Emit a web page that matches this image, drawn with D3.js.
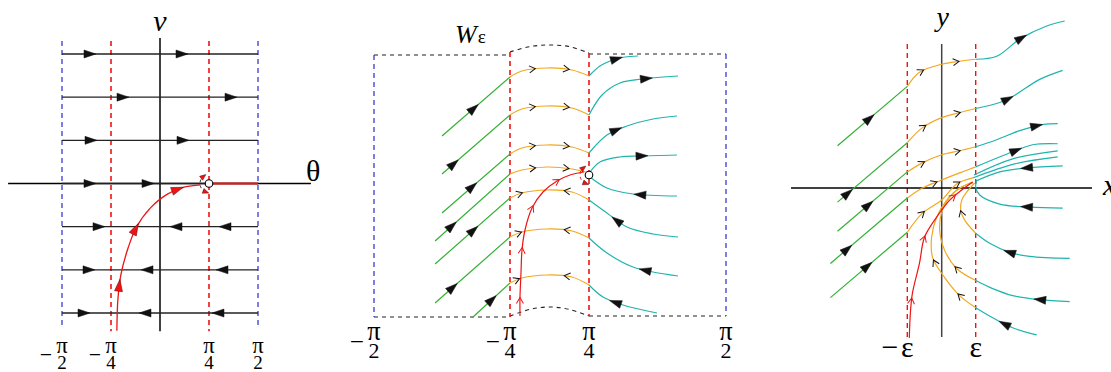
<!DOCTYPE html>
<html>
<head>
<meta charset="utf-8">
<script src="https://cdn.jsdelivr.net/npm/d3@7"></script>
<style>
  body { margin: 0; background: #fff; }
  svg { display: block; }
</style>
</head>
<body>
<svg id="chart" width="1111" height="372"></svg>
<script>
// ---------------- data ----------------
// panel 1: theta in units of pi/4, v in row units
const p1Rows = [3, 2, 1, 0, -1, -2, -3];
const p1RowArrows = [
  [[-1.43, 1], [0.45, 1]],
  [[-0.76, 1], [1.45, 1]],
  [[-1.41, 1], [0.47, 1]],
  [[-1.43, 1], [-0.24, 1]],
  [[-1.24, 1], [0.33, -1], [1.33, -1]],
  [[-1.45, 1], [-0.27, -1], [1.27, -1]],
  [[-1.55, 1], [-0.31, -1], [1.18, -1]]
];
const p1Sep = [[-0.88, -3.41], [-0.86, -2.70], [-0.80, -2.12], [-0.65, -1.49], [-0.49, -1.03],
  [-0.20, -0.57], [0.16, -0.24], [0.51, -0.08], [0.82, -0.03]];
const p1SepArrows = [[-0.86, -2.35, 1], [-0.49, -1.05, 1], [0.37, -0.15, 1]];
const thetaTicks = [-2, -1, 1, 2];
const thetaSign = ['−', '−', '', ''];
const thetaDen = ['2', '4', '4', '2'];

// panel 2: W_eps strip (x piecewise in units of pi/4)
const p2Green = [
  [[-1.5, 0.975], [-1, 2.45]],
  [[-1.5, 0.025], [-1, 1.5]],
  [[-1.5, -0.95], [-1, 0.525]],
  [[-1.551, -1.65], [-1, 0.025]],
  [[-1.551, -2.225], [-1, -0.575]],
  [[-1.551, -3.2], [-1, -1.55]],
  [[-1.272, -3.55], [-1, -2.7]]
];
const p2GreenArrows = [[-1.272, 1.675, 1], [-1.419, 0.3, 1], [-1.272, -0.325, 1], [-1.419, -1.3, 1],
  [-1.272, -1.375, 1], [-1.419, -2.825, 1], [-1.132, -3.125, 1]];
const p2Yellow = [
  [[-1, 2.45], [-0.70, 2.60], [-0.06, 2.675], [0.57, 2.625], [1, 2.475]],
  [[-1, 1.5], [-0.70, 1.65], [-0.06, 1.725], [0.57, 1.675], [1, 1.5]],
  [[-1, 0.525], [-0.70, 0.675], [-0.06, 0.75], [0.57, 0.70], [1, 0.55]],
  [[-1, 0.025], [-0.70, 0.125], [-0.06, 0.2], [0.57, 0.15], [0.92, 0.075]],
  [[-1, -0.575], [-0.70, -0.45], [-0.06, -0.375], [0.57, -0.425], [1, -0.625]],
  [[-1, -1.55], [-0.70, -1.425], [-0.06, -1.35], [0.57, -1.4], [1, -1.575]],
  [[-1, -2.7], [-0.70, -2.575], [-0.06, -2.5], [0.57, -2.55], [1, -2.75]]
];
const p2YellowArrows = [
  [[-0.42, 2.66, 1], [0.44, 2.66, 1]],
  [[-0.42, 1.72, 1], [0.44, 1.72, 1]],
  [[-0.42, 0.74, 1], [0.44, 0.74, 1]],
  [[-0.42, 0.19, 1], [0.44, 0.19, 1]],
  [[-0.747, -0.45, 1], [0.44, -0.39, -1]],
  [[-0.772, -1.45, 1], [0.44, -1.36, -1]],
  [[-0.823, -2.6, 1], [0.44, -2.52, -1]]
];
const p2Cyan = [
  [[1, 2.475], [1.08, 2.725], [1.175, 2.875], [1.263, 2.95], [1.358, 2.975]],
  [[1, 1.5], [1.095, 2.0], [1.226, 2.3], [1.394, 2.4], [1.65, 2.475]],
  [[1, 0.55], [1.131, 1.0], [1.277, 1.225], [1.467, 1.4], [1.642, 1.475]],
  [[1.007, 0.075], [1.08, 0.325], [1.226, 0.45], [1.372, 0.475], [1.642, 0.5]],
  [[1.007, -0.05], [1.131, -0.325], [1.321, -0.475], [1.642, -0.525]],
  [[1, -0.625], [1.131, -0.95], [1.277, -1.3], [1.467, -1.475], [1.65, -1.55]],
  [[1, -1.575], [1.131, -1.95], [1.321, -2.3], [1.65, -2.525]],
  [[1, -2.75], [1.102, -3.05], [1.248, -3.25], [1.496, -3.45]]
];
const p2CyanArrows = [[1.204, 2.85, 1], [1.423, 2.325, 1], [1.204, 1.075, 1], [1.387, 0.45, 1],
  [1.372, -0.5, -1], [1.204, -1.125, -1], [1.409, -2.375, -1], [1.19, -3.2, -1]];
const p2Sep = [[-0.747, -3.525], [-0.747, -3.05], [-0.722, -2.45], [-0.696, -1.875], [-0.62, -1.375],
  [-0.443, -0.825], [-0.165, -0.425], [0.19, -0.15], [0.519, 0], [0.873, 0.075]];
const p2SepArrows = [[-0.747, -3.125, 1], [-0.696, -1.875, 1], [-0.443, -0.825, 1], [0.19, -0.15, 1]];
const p2Frame = [
  [[-2, 3], [-1, 3]],
  [[-1, 3.075], [-0.5, 3.21], [0, 3.25], [0.5, 3.21], [1, 3.05]],
  [[1, 3.025], [2, 3.025]],
  [[-2, -3.55], [-1, -3.55]],
  [[-1, -3.525], [-0.5, -3.36], [0, -3.3], [0.5, -3.36], [1, -3.525]],
  [[1, -3.525], [2, -3.525]]
];

// panel 3: blow-up near the saddle, x in units of eps
const p3Green = [
  [[-3.029, 1.235], [-1, 2.971]],
  [[-3.029, -0.412], [-1, 1.324]],
  [[-3.029, -1.265], [-1, 0.471]],
  [[-3.235, -2.206], [-1, -0.294]],
  [[-3.235, -3.206], [-1, -1.294]]
];
const p3GreenArrows = [[-2.118, 2.059, 1], [-2.735, -0.147, 1], [-2.147, -0.471, 1],
  [-2.765, -1.765, 1], [-2.176, -2.265, 1]];
const p3Yellow = [
  [[-1, 2.971], [-0.647, 3.382], [0, 3.618], [0.529, 3.706], [1, 3.765]],
  [[-1, 1.324], [-0.559, 1.765], [0, 2.059], [0.529, 2.206], [1, 2.324]],
  [[-1, 0.471], [-0.559, 0.735], [0, 0.971], [0.529, 1.088], [1, 1.206]],
  [[-1, -0.294], [-0.559, 0], [0, 0.235], [0.529, 0.441], [1, 0.618]],
  [[-1, -1.294], [-0.559, -0.735], [0, -0.353], [0.441, 0.118], [0.912, 0.294]],
  [[1, -1.324], [0.676, -0.941], [0.559, -0.647], [0.588, -0.353], [0.735, -0.118], [0.971, 0.147]],
  [[1, -2.706], [0.441, -2.353], [0.088, -1.824], [-0.059, -1.235], [0, -0.706], [0.235, -0.265],
    [0.588, 0.029], [0.912, 0.176]],
  [[1, -3.5], [0.529, -3.147], [0.088, -2.618], [-0.265, -2.029], [-0.294, -1.441], [-0.147, -0.853],
    [0.147, -0.353], [0.529, 0], [0.912, 0.147]]
];
const p3YellowArrows = [
  [[-0.559, 3.353, 1], [0.441, 3.706, 1]],
  [[-0.5, 1.765, 1], [0.471, 2.206, 1]],
  [[-0.559, 0.735, 1], [0.471, 1.088, 1]],
  [[-0.206, 0.147, 1]],
  [[-0.559, -0.735, 1], [0.471, 0.147, 1]],
  [[0.588, -0.735, 1]],
  [[0.441, -2.353, 1]],
  [[0.529, -3.147, 1], [-0.206, -2.176, 1]]
];
const p3Cyan = [
  [[1, 3.765], [1.618, 3.853], [2.294, 4.353], [3.088, 4.735], [3.618, 4.882]],
  [[1, 2.324], [1.706, 2.5], [2.088, 2.676], [2.882, 3.176], [3.559, 3.441]],
  [[1, 1.206], [1.618, 1.412], [2.294, 1.676], [2.971, 1.853], [3.412, 1.882]],
  [[1, 0.618], [2.088, 1.059], [2.676, 1.265], [3.412, 1.294]],
  [[0.95, 0.38], [2.088, 0.853], [3.412, 1.088]],
  [[0.912, 0.294], [2.147, 0.706], [3.412, 0.912]],
  [[1.0, 0.2], [1.706, 0.471], [2.5, 0.588], [3.559, 0.647]],
  [[1.029, 0.235], [1.0, 0.029], [1.118, -0.206], [1.706, -0.471], [2.588, -0.559], [3.559, -0.588]],
  [[1, -1.324], [1.412, -1.618], [2, -1.882], [2.588, -2.0], [3.765, -2.059]],
  [[1, -2.706], [1.5, -2.941], [2.088, -3.147], [2.882, -3.265], [3.765, -3.324]],
  [[1, -3.5], [1.5, -3.794], [2.088, -4.088], [2.794, -4.294]]
];
const p3CyanArrows = [[2.382, 4.324, 1], [1.912, 2.647, 1], [2.794, 1.824, 1], [2.206, 1.059, 1],
  null, null, [2.5, 0.588, -1], [2.5, -0.559, -1], [2.0, -1.882, -1], [2.882, -3.265, -1], [1.853, -3.97, -1]];
const p3Sep = [[-0.941, -4.382], [-0.912, -3.676], [-0.853, -3.088], [-0.647, -2.206], [-0.5, -1.441],
  [-0.147, -0.853], [0.235, -0.353], [0.588, -0.059], [0.912, 0.176]];
const p3SepArrows = [[-0.882, -3.294, 1], [-0.529, -1.471, 1], [0.324, -0.206, 1]];
const epsTicks = [-1, 1];
const epsSign = ['−', ''];

// ---------------- styles ----------------
const SERIF = '"Liberation Serif", "DejaVu Serif", serif';
const GREEN = '#33b033', YELLOW = '#f3a81e', CYAN = '#1fb4ae', RED = '#ee1414', BLUE = '#3a3ad2';

const svg = d3.select('#chart');

// scales
const x1 = d3.scaleLinear().domain([-2, 2]).range([62, 258]);
const y1 = d3.scaleLinear().domain([-3, 3]).range([313, 54]);
const x2 = d3.scaleLinear().domain([-2, -1, 1, 2]).range([374, 510, 589, 726]);
const y2 = d3.scaleLinear().domain([-1, 1]).range([215, 135]);
const x3 = d3.scaleLinear().domain([-1, 0, 1]).range([907.3, 941.7, 975.7]);
const y3 = d3.scaleLinear().domain([-1, 1]).range([222.2, 153.8]);

// ---------------- helpers ----------------
function curve(g, pts, sx, sy, color, width, dash) {
  const line = d3.line()
    .x(d => sx(d[0])).y(d => sy(d[1]))
    .curve(pts.length > 2 ? d3.curveCatmullRom.alpha(0.5) : d3.curveLinear);
  return g.append('path')
    .attr('d', line(pts))
    .attr('fill', 'none')
    .attr('stroke', color)
    .attr('stroke-width', width || 1.2)
    .attr('stroke-dasharray', dash || null)
    .node();
}

function arrowOn(g, node, px, py, dir, kind, color) {
  const L = node.getTotalLength();
  let best = 0, bd = Infinity;
  for (let l = 0; l <= L; l += 0.5) {
    const p = node.getPointAtLength(l);
    const d = (p.x - px) ** 2 + (p.y - py) ** 2;
    if (d < bd) { bd = d; best = l; }
  }
  const p = node.getPointAtLength(best);
  const a = node.getPointAtLength(Math.max(0, best - 2));
  const b = node.getPointAtLength(Math.min(L, best + 2));
  let ang = Math.atan2(b.y - a.y, b.x - a.x) * 180 / Math.PI;
  if (dir < 0) ang += 180;
  const t = g.append('g').attr('transform', `translate(${p.x},${p.y}) rotate(${ang})`);
  if (kind === 'fill') {
    t.append('path').attr('d', 'M6,0L-6,-4L-6,4Z').attr('fill', color || '#111')
      .attr('stroke', color === RED ? '#600' : '#111').attr('stroke-width', 0.5);
  } else {
    t.append('path').attr('d', 'M-3.5,-3.5L2.5,0L-3.5,3.5').attr('fill', 'none')
      .attr('stroke', color || '#111').attr('stroke-width', 1);
  }
}

function traj(g, list, arrows, sx, sy, color, kind, arrowColor) {
  list.forEach((pts, i) => {
    const node = curve(g, pts, sx, sy, color, 1.2);
    let a = arrows[i];
    if (!a) return;
    if (!Array.isArray(a[0])) a = [a];
    a.forEach(s => arrowOn(g, node, sx(s[0]), sy(s[1]), s[2], kind, arrowColor));
  });
}

function vdash(g, x, yTop, yBot, color, width) {
  g.append('line').attr('x1', x).attr('x2', x).attr('y1', yTop).attr('y2', yBot)
    .attr('stroke', color).attr('stroke-width', width).attr('stroke-dasharray', '5,4');
}

function saddleHook(g, cx, cy, color, arrowColor) {
  const r = 9, a0 = 110 * Math.PI / 180, a1 = 232 * Math.PI / 180;
  const p = d3.path();
  p.arc(cx, cy, r, a0, a1, false);
  g.append('path').attr('d', p.toString()).attr('fill', 'none')
    .attr('stroke', color).attr('stroke-width', 1).attr('stroke-dasharray', '3,3');
  [[a1, 1], [a0, -1]].forEach(([a, s]) => {
    const x = cx + r * Math.cos(a), y = cy + r * Math.sin(a);
    const ang = Math.atan2(s * Math.cos(a), -s * Math.sin(a)) * 180 / Math.PI;
    g.append('path').attr('d', 'M3,0L-3,-2.5L-3,2.5Z')
      .attr('transform', `translate(${x},${y}) rotate(${ang})`)
      .attr('fill', arrowColor).attr('stroke', '#300').attr('stroke-width', 0.4);
  });
}

// stacked pi over a digit, with an optional minus sign in front
function fraction(g, cx, yPi, fs, sign, den) {
  const t = g.append('g').style('font-family', SERIF);
  t.append('text').attr('x', cx).attr('y', yPi).attr('text-anchor', 'middle')
    .style('font-size', (fs * 1.2) + 'px').text('π');
  t.append('text').attr('x', cx).attr('y', yPi + fs * 0.82).attr('text-anchor', 'middle')
    .style('font-size', fs + 'px').text(den);
  if (sign) {
    t.append('text').attr('x', cx - 10).attr('y', yPi + 3 + fs * 0.3)
      .attr('text-anchor', 'end').style('font-size', (fs * 1.15) + 'px').text(sign);
  }
}

// ---------------- panel 1 ----------------
const g1 = svg.append('g');
vdash(g1, x1(-2), y1(3.3), y1(-3.37), BLUE, 1.3);
vdash(g1, x1(2), y1(3.3), y1(-3.37), BLUE, 1.3);
vdash(g1, x1(-1), y1(3.3), y1(-3.42), RED, 1.6);
vdash(g1, x1(1), y1(3.3), y1(-3.42), RED, 1.6);

g1.append('line').attr('x1', x1(0)).attr('x2', x1(0)).attr('y1', y1(3.37)).attr('y2', y1(-3.42))
  .attr('stroke', '#000').attr('stroke-width', 1.5);
g1.append('line').attr('x1', x1(-3.1)).attr('x2', x1(3.08)).attr('y1', y1(0)).attr('y2', y1(0))
  .attr('stroke', '#000').attr('stroke-width', 1.5);

p1Rows.forEach((v, i) => {
  const node = curve(g1, [[-2, v], [2, v]], x1, y1, '#222', 1.3);
  p1RowArrows[i].forEach(a => arrowOn(g1, node, x1(a[0]), y1(v), a[1], 'fill', '#111'));
});
g1.append('line').attr('x1', x1(1)).attr('x2', x1(2)).attr('y1', y1(0)).attr('y2', y1(0))
  .attr('stroke', RED).attr('stroke-width', 2);

const sep1 = curve(g1, p1Sep, x1, y1, RED, 1.3);
p1SepArrows.forEach(a => arrowOn(g1, sep1, x1(a[0]), y1(a[1]), a[2], 'fill', RED));
saddleHook(g1, x1(1), y1(0), '#333', RED);
g1.append('circle').attr('cx', x1(1)).attr('cy', y1(0)).attr('r', 3.8)
  .attr('fill', '#fff').attr('stroke', '#000').attr('stroke-width', 1.1);

g1.append('text').attr('x', x1(0)).attr('y', 31).attr('text-anchor', 'middle')
  .style('font-family', SERIF).style('font-style', 'italic').style('font-size', '30px').text('v');
g1.append('text').attr('x', 306).attr('y', 181)
  .style('font-family', SERIF).style('font-size', '30px').text('θ');
thetaTicks.forEach((t, i) => fraction(g1, x1(t), 353, 19, thetaSign[i], thetaDen[i]));

// ---------------- panel 2 ----------------
const g2 = svg.append('g');
p2Frame.forEach(seg => curve(g2, seg, x2, y2, '#222', 1.1, '4,4'));
vdash(g2, x2(-2), y2(3), y2(-3.55), BLUE, 1.3);
vdash(g2, x2(2), y2(3.025), y2(-3.525), BLUE, 1.3);
vdash(g2, x2(-1), y2(3.075), y2(-3.55), RED, 1.6);
vdash(g2, x2(1), y2(3.05), y2(-3.525), RED, 1.6);

traj(g2, p2Green, p2GreenArrows, x2, y2, GREEN, 'fill', '#111');
traj(g2, p2Yellow, p2YellowArrows, x2, y2, YELLOW, 'open', '#111');
traj(g2, p2Cyan, p2CyanArrows, x2, y2, CYAN, 'fill', '#111');
const sep2 = curve(g2, p2Sep, x2, y2, RED, 1.2);
p2SepArrows.forEach(a => arrowOn(g2, sep2, x2(a[0]), y2(a[1]), a[2], 'open', RED));
saddleHook(g2, x2(1), y2(0), RED, RED);
g2.append('circle').attr('cx', x2(1)).attr('cy', y2(0)).attr('r', 3.8)
  .attr('fill', '#fff').attr('stroke', '#000').attr('stroke-width', 1.1);

const wl = g2.append('text').attr('x', 455).attr('y', 43)
  .style('font-family', SERIF).style('font-size', '26px');
wl.append('tspan').style('font-style', 'italic').text('W');
wl.append('tspan').attr('dx', 1).style('font-size', '19px').text('ε');
thetaTicks.forEach((t, i) => fraction(g2, x2(t), 340, 22, thetaSign[i], thetaDen[i]));

// ---------------- panel 3 ----------------
const g3 = svg.append('g');
vdash(g3, x3(-1), y3(4.21), y3(-4.36), RED, 1.4);
vdash(g3, x3(1), y3(4.21), y3(-4.36), RED, 1.4);
g3.append('line').attr('x1', x3(0)).attr('x2', x3(0)).attr('y1', y3(4.21)).attr('y2', y3(-4.36))
  .attr('stroke', '#444').attr('stroke-width', 1.5);
g3.append('line').attr('x1', x3(-4.38)).attr('x2', x3(4.42)).attr('y1', y3(0)).attr('y2', y3(0))
  .attr('stroke', '#000').attr('stroke-width', 1.5);

traj(g3, p3Green, p3GreenArrows, x3, y3, GREEN, 'fill', '#111');
traj(g3, p3Cyan, p3CyanArrows, x3, y3, CYAN, 'fill', '#111');
traj(g3, p3Yellow, p3YellowArrows, x3, y3, YELLOW, 'open', '#111');
const sep3 = curve(g3, p3Sep, x3, y3, RED, 1.2);
p3SepArrows.forEach(a => arrowOn(g3, sep3, x3(a[0]), y3(a[1]), a[2], 'open', RED));

g3.append('text').attr('x', x3(0) + 1).attr('y', 26).attr('text-anchor', 'middle')
  .style('font-family', SERIF).style('font-style', 'italic').style('font-size', '28px').text('y');
g3.append('text').attr('x', 1103).attr('y', 195)
  .style('font-family', SERIF).style('font-style', 'italic').style('font-size', '30px').text('x');
epsTicks.forEach((t, i) => {
  g3.append('text').attr('x', x3(t)).attr('y', 357).attr('text-anchor', 'middle')
    .style('font-family', SERIF).style('font-size', '30px').text('ε');
  if (epsSign[i]) {
    g3.append('text').attr('x', x3(t) - 9).attr('y', 357).attr('text-anchor', 'end')
      .style('font-family', SERIF).style('font-size', '30px').text(epsSign[i]);
  }
});
</script>
</body>
</html>
